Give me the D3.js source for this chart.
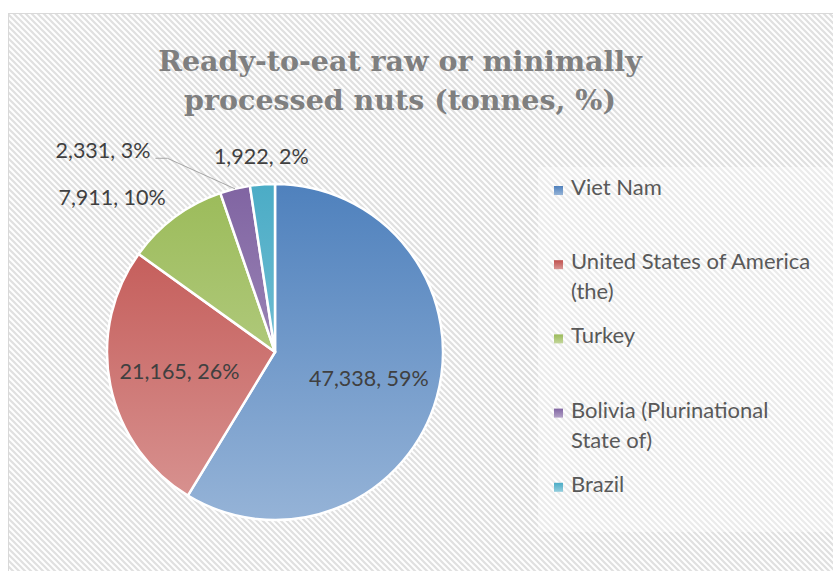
<!DOCTYPE html>
<html>
<head>
<meta charset="utf-8">
<script src="https://cdn.jsdelivr.net/npm/d3@7"></script>
<style>
  html, body { margin: 0; padding: 0; background: #fff; }
  svg { display: block; }
</style>
</head>
<body>
<svg id="chart" width="833" height="571"></svg>
<script>
// Ready-to-eat raw or minimally processed nuts, by country (tonnes)
const categories = [
  "Viet Nam",
  "United States of America (the)",
  "Turkey",
  "Bolivia (Plurinational State of)",
  "Brazil"
];
const tonnes = [47338, 21165, 7911, 2331, 1922];
const titleLines = ["Ready-to-eat raw or minimally", "processed nuts (tonnes, %)"];

// Slice colours: darker shade at the top of the pie, lighter toward the bottom
const topColors = ["#4f81bd", "#c0504d", "#9bbb59", "#8064a2", "#4bacc6"];
const bottomColors = ["#95b3d7", "#d99694", "#c3d69b", "#b3a2c7", "#93cddd"];

const W = 833, H = 571;
const svg = d3.select("#chart");
const defs = svg.append("defs");

// Diagonal hatch used for the chart background
const hatch = defs.append("pattern")
  .attr("id", "hatch")
  .attr("patternUnits", "userSpaceOnUse")
  .attr("width", 6).attr("height", 6);
hatch.append("rect").attr("width", 6).attr("height", 6).attr("fill", "#ffffff");
hatch.append("path")
  .attr("d", "M-1,-1L7,7M-1,5L1,7M5,-1L7,1")
  .attr("stroke", "#e0e0e0").attr("stroke-width", 2.2);

// Chart frame
svg.append("rect")
  .attr("x", 8.5).attr("y", 13.5)
  .attr("width", W + 20).attr("height", H + 20)
  .attr("fill", "url(#hatch)")
  .attr("stroke", "#d9d9d9").attr("stroke-width", 1);

// Title
const title = svg.append("text")
  .attr("text-anchor", "middle")
  .attr("font-family", "'DejaVu Serif', serif")
  .attr("font-weight", "bold")
  .attr("font-size", 28.5)
  .attr("fill", "#7f7f7f");
titleLines.forEach((line, i) => {
  title.append("tspan").attr("x", 400).attr("y", 71 + i * 39).text(line);
});

// Pie geometry
const cx = 275, cy = 352, R = 168;
const total = d3.sum(tonnes);
const rows = categories.map((c, i) => ({ name: c, value: tonnes[i], i }));

const pie = d3.pie().value(d => d.value).sort(null);
const arcs = pie(rows);
const arc = d3.arc().innerRadius(0).outerRadius(R);
const labelArc = d3.arc().innerRadius(R * 0.58).outerRadius(R * 0.58);
const outerArc = d3.arc().innerRadius(R + 15).outerRadius(R + 15);
const edgeArc = d3.arc().innerRadius(R).outerRadius(R);

// One vertical gradient per slice spanning the full pie height (pie-local coordinates)
rows.forEach((d, i) => {
  const g = defs.append("linearGradient")
    .attr("id", "grad" + i)
    .attr("gradientUnits", "userSpaceOnUse")
    .attr("x1", 0).attr("y1", -R).attr("x2", 0).attr("y2", R);
  g.append("stop").attr("offset", "0%").attr("stop-color", topColors[i]);
  g.append("stop").attr("offset", "100%").attr("stop-color", bottomColors[i]);
  const s = defs.append("linearGradient")
    .attr("id", "sq" + i)
    .attr("x1", 0).attr("y1", 0).attr("x2", 0).attr("y2", 1);
  s.append("stop").attr("offset", "0%").attr("stop-color", topColors[i]);
  s.append("stop").attr("offset", "100%").attr("stop-color", bottomColors[i]);
});

const pieG = svg.append("g").attr("transform", `translate(${cx},${cy})`);
pieG.selectAll("path.slice")
  .data(arcs)
  .join("path")
  .attr("class", "slice")
  .attr("d", arc)
  .attr("fill", d => `url(#grad${d.index})`)
  .attr("stroke", "#ffffff")
  .attr("stroke-width", 2.5)
  .attr("stroke-linejoin", "round");

// Data labels
const fmt = d3.format(",");
const labelText = d => `${fmt(d.data.value)}, ${Math.round(d.data.value / total * 100)}%`;
const labelFont = "Lato, 'Open Sans', sans-serif";
const labelSize = 21.5;
const labelColor = "#404040";

// Labels pushed away from crowded thin slices, joined back by a leader line
const bumped = { "Bolivia (Plurinational State of)": [-81, -16] };

const labelG = svg.append("g");
arcs.forEach(d => {
  const share = d.data.value / total;
  const t = labelG.append("text")
    .attr("font-family", labelFont)
    .attr("font-size", labelSize)
    .attr("fill", labelColor)
    .text(labelText(d));
  if (share > 0.2) {
    const [x, y] = labelArc.centroid(d);
    t.attr("x", cx + x).attr("y", cy + y)
      .attr("text-anchor", "middle")
      .attr("dominant-baseline", "central");
  } else {
    let [x, y] = outerArc.centroid(d);
    x += cx; y += cy;
    const mid = (d.startAngle + d.endAngle) / 2;
    const side = Math.sin(mid);
    const shift = bumped[d.data.name];
    if (shift) {
      const [ex, ey] = edgeArc.centroid(d);
      const lx = x + shift[0], ly = y + shift[1];
      labelG.insert("polyline", "text")
        .attr("points", [[cx + ex, cy + ey], [lx + 17, ly], [lx + 5, ly]].map(p => p.join(",")).join(" "))
        .attr("fill", "none")
        .attr("stroke", "#a6a6a6")
        .attr("stroke-width", 1);
      t.attr("x", lx).attr("y", ly).attr("text-anchor", "end");
    } else if (Math.abs(side) < 0.2) {
      t.attr("x", x).attr("y", y - 6).attr("text-anchor", "middle");
    } else {
      t.attr("x", x).attr("y", y).attr("text-anchor", side < 0 ? "end" : "start");
    }
  }
});

// Legend
const legendTop = 167, legendBottom = 538, legendLeft = 538;
svg.append("rect")
  .attr("x", legendLeft).attr("y", legendTop)
  .attr("width", W - legendLeft).attr("height", 532 - legendTop)
  .attr("fill", "#ffffff").attr("fill-opacity", 0.35);

const legendY = d3.scaleBand().domain(categories).range([legendTop, legendBottom]);
const legendFont = "Lato, 'Open Sans', sans-serif";
const legendSize = 22;
const wrapWidth = 245;

const items = svg.append("g").selectAll("g")
  .data(rows)
  .join("g")
  .attr("transform", d => `translate(0,${legendY(d.name) + 28})`);

items.append("rect")
  .attr("x", 554).attr("y", -9)
  .attr("width", 9).attr("height", 9)
  .attr("fill", d => `url(#sq${d.i})`);

items.each(function (d) {
  const text = d3.select(this).append("text")
    .attr("font-family", legendFont)
    .attr("font-size", legendSize)
    .attr("fill", "#595959");
  const words = d.name.split(" ");
  let line = [];
  let lineNo = 0;
  let tspan = text.append("tspan").attr("x", 571).attr("y", 0);
  words.forEach(w => {
    line.push(w);
    tspan.text(line.join(" "));
    if (tspan.node().getComputedTextLength() > wrapWidth && line.length > 1) {
      line.pop();
      tspan.text(line.join(" "));
      line = [w];
      lineNo += 1;
      tspan = text.append("tspan").attr("x", 571).attr("y", lineNo * 30).text(w);
    }
  });
});
</script>
</body>
</html>
